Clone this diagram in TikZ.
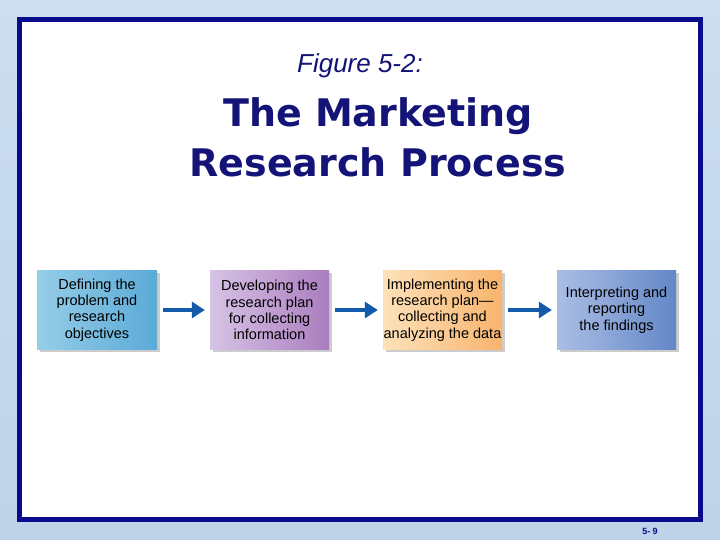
\documentclass[tikz,border=0pt]{standalone}
\usepackage{fontspec}
\setmainfont{Liberation Sans}
\newfontfamily\ttlfont{DejaVu Sans}
\usetikzlibrary{arrows.meta}
\definecolor{navy}{RGB}{10,10,140}
\definecolor{ttl}{RGB}{20,20,120}
\definecolor{arr}{RGB}{20,90,170}
\tikzset{
 stepbox/.style={minimum width=120pt,minimum height=79pt,align=center,font=\fontsize{14.5}{16.3}\selectfont,inner sep=0pt},
 flow/.style={draw=arr,line width=4pt,-{Triangle[length=13pt,width=16pt]},shorten <=6pt,shorten >=5pt}
}
\begin{document}
\begin{tikzpicture}[x=1pt,y=-1pt]
\shade[top color={rgb,255:red,205;green,222;blue,240},bottom color={rgb,255:red,190;green,210;blue,232}] (0,0) rectangle (720,540);
\useasboundingbox (0,0) rectangle (720,540);
\draw[navy,line width=5pt,fill=white] (19.5,19.5) rectangle (700.5,519.5);
\node[text=ttl,font=\fontsize{26}{30}\selectfont\itshape] (fig) at (360,66) {Figure 5-2:};
\node[text=ttl,font=\ttlfont\fontsize{38}{50}\selectfont\bfseries,align=center] (title) at (378,137) {The Marketing\\Research Process};
\fill[gray!40] (40,273) rectangle (160,352);
\fill[gray!40] (213,273) rectangle (332,352);
\fill[gray!40] (386,273) rectangle (505,352);
\fill[gray!40] (560,273) rectangle (679,352);
\node[stepbox,left color={rgb,255:red,150;green,205;blue,232},right color={rgb,255:red,90;green,170;blue,215}] (a) at (97,310) {Defining the\\problem and\\research\\objectives};
\node[stepbox,minimum width=119pt,left color={rgb,255:red,215;green,195;blue,230},right color={rgb,255:red,170;green,125;blue,190}] (b) at (269.5,310) {Developing the\\research plan\\for collecting\\information};
\node[stepbox,minimum width=119pt,left color={rgb,255:red,253;green,225;blue,185},right color={rgb,255:red,248;green,180;blue,110}] (c) at (442.5,310) {Implementing the\\research plan—\\collecting and\\analyzing the data};
\node[stepbox,minimum width=119pt,left color={rgb,255:red,170;green,190;blue,228},right color={rgb,255:red,100;green,135;blue,200}] (d) at (616.5,310) {Interpreting and\\reporting\\the findings};
\draw[flow] (a) -- (b);
\draw[flow] (b) -- (c);
\draw[flow] (c) -- (d);
\node[text=navy,font=\fontsize{9}{10}\selectfont\bfseries] (pg) at (650,531) {5- 9};
\end{tikzpicture}
\end{document}
